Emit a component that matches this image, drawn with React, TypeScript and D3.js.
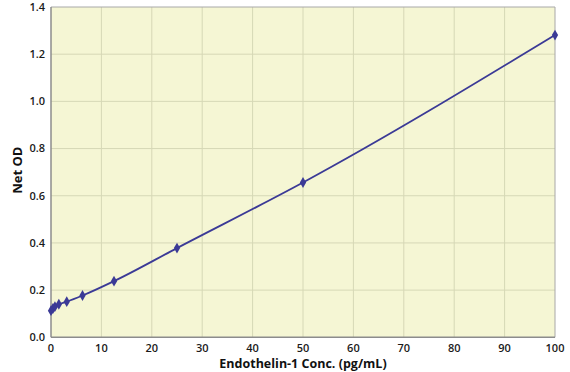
import React from "react";
import * as d3 from "d3";

const concentrations = [0, 0.39, 0.78, 1.56, 3.125, 6.25, 12.5, 25, 50, 100];
const netOD = [0.113, 0.122, 0.13, 0.14, 0.151, 0.177, 0.238, 0.378, 0.656, 1.281];
const xTicks = [0, 10, 20, 30, 40, 50, 60, 70, 80, 90, 100];
const yTicks = [0, 0.2, 0.4, 0.6, 0.8, 1.0, 1.2, 1.4];

const W = 570, H = 372;
const M = { left: 51, right: 15, top: 7, bottom: 34.7 };

export default function App() {
  const x = d3.scaleLinear().domain([0, 100]).range([M.left, W - M.right]);
  const y = d3.scaleLinear().domain([0, 1.4]).range([H - M.bottom, M.top]);
  const pts = concentrations.map((c, i) => [c, netOD[i]] as [number, number]);
  const line = d3.line<[number, number]>().x(d => x(d[0])).y(d => y(d[1])).curve(d3.curveMonotoneX);
  const diamond = d3.symbol().type(d3.symbolDiamond).size(34)();
  const font = "'Open Sans', 'DejaVu Sans', sans-serif";
  return (
    <svg width={W} height={H} style={{ position: "absolute", left: 0, top: 0 }}>
      <rect x={x(0)} y={y(1.4)} width={x(100) - x(0)} height={y(0) - y(1.4)} fill="#f5f6d4" />
      {xTicks.slice(1, -1).map(t => (
        <line key={"gx" + t} x1={x(t)} x2={x(t)} y1={y(0)} y2={y(1.4)} stroke="#d6d8b6" strokeWidth={1} />
      ))}
      {yTicks.slice(1, -1).map(t => (
        <line key={"gy" + t} x1={x(0)} x2={x(100)} y1={y(t)} y2={y(t)} stroke="#d6d8b6" strokeWidth={1} />
      ))}
      <line x1={x(0)} x2={x(100)} y1={y(1.4)} y2={y(1.4)} stroke="#a8a8a8" strokeWidth={1} />
      <line x1={x(100)} x2={x(100)} y1={y(0)} y2={y(1.4)} stroke="#a8a8a8" strokeWidth={1} />
      <line x1={x(0)} x2={x(0)} y1={y(0)} y2={y(1.4)} stroke="#8c8c8c" strokeWidth={1.5} />
      <line x1={x(0)} x2={x(100)} y1={y(0)} y2={y(0)} stroke="#8c8c8c" strokeWidth={1.5} />
      {yTicks.map(t => (
        <text key={"yl" + t} x={x(0) - 6} y={y(t)} dy="0.35em" textAnchor="end" fontFamily={font} fontSize={11} fontWeight={600} fill="#1a1a1a">
          {t.toFixed(1)}
        </text>
      ))}
      {xTicks.map(t => (
        <text key={"xl" + t} x={x(t)} y={351.5} textAnchor="middle" fontFamily={font} fontSize={11} fontWeight={600} fill="#1a1a1a">
          {t}
        </text>
      ))}
      <path d={line(pts) || ""} fill="none" stroke="#3b3a96" strokeWidth={1.8} />
      {pts.map((p, i) => (
        <path key={"m" + i} d={diamond || ""} transform={`translate(${x(p[0])},${y(p[1])})`} fill="#3b3a96" />
      ))}
      <text x={(x(0) + x(100)) / 2} y={367.5} textAnchor="middle" fontFamily={font} fontSize={12.5} fontWeight={700} fill="#111">
        Endothelin-1 Conc. (pg/mL)
      </text>
      <text transform={`translate(21.5,${(y(0) + y(1.4)) / 2 - 2}) rotate(-90)`} textAnchor="middle" fontFamily={font} fontSize={13} fontWeight={700} fill="#111">
        Net OD
      </text>
    </svg>
  );
}
